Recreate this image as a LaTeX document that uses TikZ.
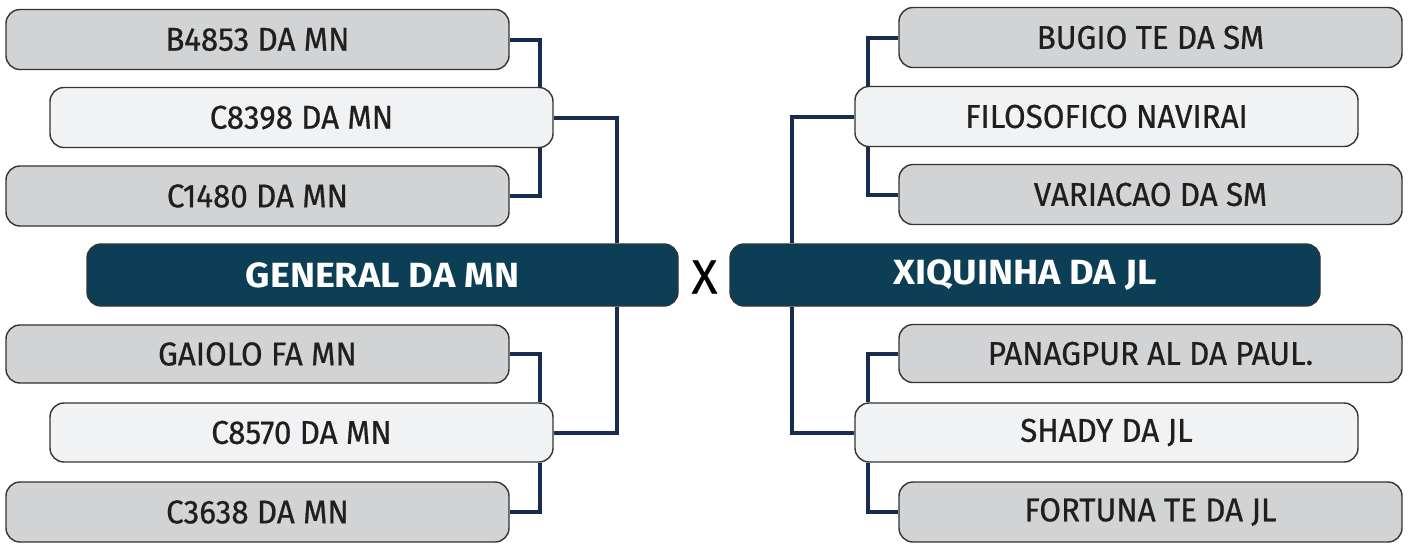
\documentclass[tikz,border=0pt]{standalone}
\usepackage{fontspec}
\setmainfont{Fira Sans}
\newfontfamily\entryfont{Fira Sans}[FakeBold=0.6, FakeStretch=0.95]
\newfontfamily\finalfont{Fira Sans}[FakeStretch=1.08]
\newfontfamily\versusfont{Fira Sans}[FakeBold=0.5]
\usetikzlibrary{backgrounds}
\definecolor{boxgray}{HTML}{D2D3D5}
\definecolor{boxlight}{HTML}{F1F2F4}
\definecolor{teamteal}{HTML}{0C3E55}
\definecolor{linknavy}{HTML}{182C52}
\definecolor{edgegray}{HTML}{333333}
\tikzset{
  entry/.style={draw=edgegray, line width=0.7pt, rounded corners=7pt, minimum width=251.5pt, minimum height=30pt, inner sep=0pt, font=\entryfont\fontsize{16.5}{18}\selectfont, text=black!88},
  outer/.style={entry, fill=boxgray},
  inner/.style={entry, fill=boxlight},
  finalist/.style={entry, fill=teamteal, text=white, minimum height=31pt, font=\finalfont\bfseries\fontsize{17.5}{20}\selectfont},
  link/.style={draw=linknavy, line width=2pt}
}
\begin{document}
\begin{tikzpicture}[x=0.5pt,y=-0.5pt]
\useasboundingbox (0,0) rectangle (1410,543);
% left
\node[outer] (L1) at (257.5,39.5) {B4853 DA MN};
\node[inner] (L2) at (301.5,117.5) {C8398 DA MN};
\node[outer] (L3) at (257.5,196) {C1480 DA MN};
\node[finalist, minimum width=295.5pt] (LM) at (382.5,275) {GENERAL DA MN};
\node[outer, minimum height=29pt] (L4) at (257.5,354) {GAIOLO FA MN};
\node[inner, minimum height=29.5pt] (L5) at (301.5,432.5) {C8570 DA MN};
\node[outer] (L6) at (257.5,512) {C3638 DA MN};
% right
\node[outer] (R1) at (1150.5,37.5) {BUGIO TE DA SM};
\node[inner] (R2) at (1106.5,116.5) {FILOSOFICO NAVIRAI};
\node[outer] (R3) at (1150.5,194.5) {VARIACAO DA SM};
\node[finalist, minimum width=295pt] (RM) at (1025,275) {XIQUINHA DA JL};
\node[outer, minimum height=29pt] (R4) at (1150.5,353.5) {PANAGPUR AL DA PAUL.};
\node[inner, minimum height=29.5pt] (R5) at (1106.5,432.5) {SHADY DA JL};
\node[outer] (R6) at (1150.5,512) {FORTUNA TE DA JL};
% versus
\node[font=\versusfont\fontsize{24}{26}\selectfont, text=black] (VS) at (704.5,277) {X};
% junction columns
\coordinate (lj) at (540,0);
\coordinate (lm) at (617,0);
\coordinate (rj) at (868,0);
\coordinate (rm) at (792,0);
\begin{scope}[on background layer]
\draw[link] (L1.east) -| (lj |- L2.north);
\draw[link] (lj |- L2.south) |- (L3.east);
\draw[link] (L2.east) -| (lm |- LM.north);
\draw[link] (lm |- LM.south) |- (L5.east);
\draw[link] (L4.east) -| (lj |- L5.north);
\draw[link] (lj |- L5.south) |- (L6.east);
\draw[link] (R1.west) -| (rj |- R2.north);
\draw[link] (rj |- R2.south) |- (R3.west);
\draw[link] (R2.west) -| (rm |- RM.north);
\draw[link] (rm |- RM.south) |- (R5.west);
\draw[link] (R4.west) -| (rj |- R5.north);
\draw[link] (rj |- R5.south) |- (R6.west);
\end{scope}
\end{tikzpicture}
\end{document}
